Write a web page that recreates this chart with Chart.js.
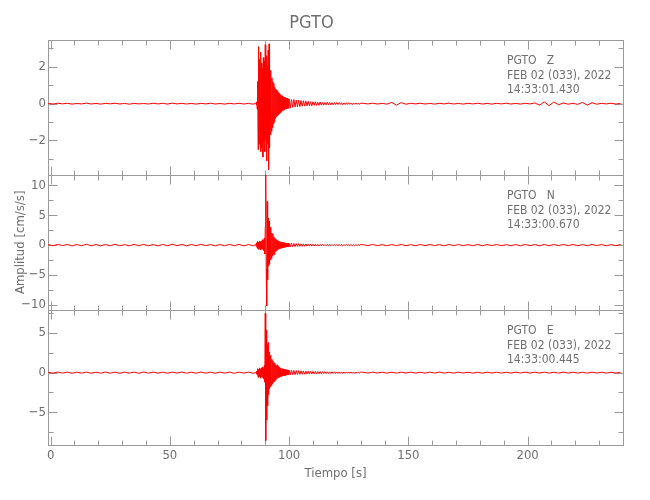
<!DOCTYPE html>
<html>
<head>
<meta charset="utf-8">
<script src="https://cdn.jsdelivr.net/npm/chart.js@4/dist/chart.umd.min.js"></script>
<style>
  body { margin: 0; background: #fff; }
  #c { display: block; }
</style>
</head>
<body>
<canvas id="c" width="650" height="500"></canvas>
<script>
// componentes del sismograma
var components = ['Z', 'N', 'E'];
var stationLabels = ['PGTO   Z', 'PGTO   N', 'PGTO   E'];
var dateLabels = ['FEB 02 (033), 2022', 'FEB 02 (033), 2022', 'FEB 02 (033), 2022'];
var timeLabels = ['14:33:01.430', '14:33:00.670', '14:33:00.445'];

// tramos de muestreo [inicio, paso] en segundos
var preSeg = [-1, 2];
var burstSeg = [86, 0.2];
var codaSeg = [100.5, 0.5];
var postSeg = [131, 2];

// Z
var zPre = [0.015,-0.02,0.025,-0.01,0.02,-0.025,0.01,-0.015,0.03,-0.02,
  0.015,-0.025,0.02,-0.01,0.025,-0.02,0.015,-0.03,0.02,-0.015,
  0.01,-0.02,0.025,-0.015,0.02,-0.025,0.03,-0.015,0.02,-0.02,
  0.015,-0.025,0.02,-0.015,0.025,-0.02,0.01,-0.025,0.02,-0.015,
  0.025,-0.02,0.015,-0.03];
var zBurst = [0.03,-0.05,0.1,-0.3,1.2,-2.5,3.1,-2.2,2.4,-2.0,
  2.8,-2.6,2.2,-2.4,1.9,-2.9,2.5,-2.1,2.3,-2.6,
  3.2,-2.0,2.6,-3.1,2.1,-2.2,2.9,-3.6,3.25,-2.4,
  1.8,-1.7,1.6,-1.5,1.4,-1.3,1.2,-1.1,1.1,-1.0,
  0.9,-0.8,0.8,-0.7,0.75,-0.65,0.7,-0.6,0.6,-0.55,
  0.55,-0.5,0.5,-0.45,0.45,-0.4,0.42,-0.38,0.36,-0.35,
  0.34,-0.3,0.32,-0.28,0.3,-0.27,0.28,-0.25,0.26,-0.25,
  0.24];
var zCoda = [-0.24,0.22,-0.2,0.23,-0.18,0.2,-0.17,0.19,-0.16,0.17,
  -0.14,0.16,-0.13,0.15,-0.12,0.13,-0.12,0.11,-0.12,0.1,
  -0.09,0.1,-0.1,0.08,-0.09,0.09,-0.08,0.07,-0.08,0.07,
  -0.07,0.08,-0.06,0.07,-0.06,0.05,-0.07,0.06,-0.05,0.06,
  -0.05,0.06,-0.04,0.05,-0.06,0.04,-0.05,0.05,-0.04,0.05,
  -0.04,0.03,-0.05,0.04,-0.03,0.04,-0.04,0.03,-0.04,0.03];
var zPost = [0.02,-0.015,0.025,-0.02,0.015,-0.025,0.07,-0.08,0.06,-0.03,
  0.02,-0.015,0.025,-0.02,0.015,-0.025,0.02,-0.015,0.03,-0.02,
  0.015,-0.025,0.02,-0.015,0.025,-0.02,0.015,-0.025,0.02,-0.015,
  0.025,-0.02,0.015,-0.025,0.02,-0.015,0.04,-0.08,0.1,-0.11,
  0.09,-0.06,0.04,-0.03,0.02,-0.04,0.07,-0.08,0.05,-0.03,
  0.02,-0.015,0.025,-0.02,0.015];

// N
var nPre = [0.08,-0.1,0.12,-0.09,0.11,-0.13,0.09,-0.1,0.14,-0.11,
  0.1,-0.12,0.09,-0.11,0.13,-0.1,0.08,-0.12,0.11,-0.09,
  0.12,-0.1,0.09,-0.13,0.11,-0.1,0.14,-0.09,0.1,-0.12,
  0.11,-0.1,0.13,-0.09,0.1,-0.12,0.09,-0.11,0.12,-0.1,
  0.11,-0.13,0.1,-0.12];
var nBurst = [0.1,-0.2,0.4,-0.5,0.6,-0.7,0.5,-0.6,0.7,-0.5,
  0.6,-0.8,0.7,-0.6,0.9,-0.7,0.8,-0.9,1.2,-1.5,
  3.0,12.3,-4.0,-10.2,7.3,-5.8,4.5,-3.5,4.0,-3.2,
  2.8,-2.5,3.0,-2.2,2.0,-1.8,1.9,-1.5,1.4,-1.6,
  1.2,-1.1,1.0,-1.0,0.9,-0.8,0.8,-0.7,0.7,-0.6,
  0.6,-0.55,0.55,-0.5,0.5,-0.45,0.48,-0.42,0.4,-0.4,
  0.38,-0.36,0.36,-0.34,0.34,-0.32,0.32,-0.3,0.3,-0.3,
  0.28];
var nCoda = [-0.28,0.3,-0.26,0.27,-0.25,0.24,-0.23,0.25,-0.22,0.22,
  -0.2,0.21,-0.19,0.2,-0.18,0.18,-0.17,0.16,-0.17,0.15,
  -0.15,0.14,-0.15,0.13,-0.14,0.13,-0.12,0.13,-0.12,0.11,
  -0.11,0.12,-0.1,0.11,-0.1,0.1,-0.11,0.09,-0.1,0.09,
  -0.09,0.1,-0.08,0.09,-0.09,0.08,-0.08,0.09,-0.08,0.08,
  -0.08,0.07,-0.08,0.08,-0.07,0.08,-0.07,0.07,-0.08,0.07];
var nPost = [0.07,-0.08,0.1,-0.09,0.08,-0.1,0.09,-0.08,0.1,-0.09,
  0.08,-0.1,0.11,-0.09,0.1,-0.08,0.09,-0.11,0.1,-0.08,
  0.09,-0.1,0.08,-0.09,0.11,-0.1,0.09,-0.08,0.1,-0.09,
  0.08,-0.1,0.09,-0.11,0.1,-0.08,0.09,-0.12,0.11,-0.1,
  0.09,-0.08,0.1,-0.09,0.11,-0.1,0.08,-0.09,0.1,-0.08,
  0.09,-0.1,0.08,-0.09,0.1];

// E
var ePre = [0.06,-0.07,0.08,-0.06,0.07,-0.08,0.06,-0.07,0.07,-0.08,
  0.06,-0.07,0.08,-0.07,0.06,-0.08,0.07,-0.06,0.07,-0.08,
  0.08,-0.06,0.07,-0.07,0.06,-0.08,0.07,-0.06,0.08,-0.07,
  0.06,-0.07,0.08,-0.07,0.06,-0.08,0.07,-0.06,0.07,-0.08,
  0.07,-0.06,0.08,-0.09];
var eBurst = [0.05,-0.1,0.2,-0.3,0.5,-0.6,0.4,-0.5,0.6,-0.4,
  0.5,-0.7,0.6,-0.5,0.7,-0.6,0.5,-0.8,0.9,-1.2,
  7.5,-8.6,5.4,-6.0,3.5,-4.2,3.8,-2.8,2.6,-2.0,
  2.2,-1.8,2.0,-1.6,1.7,-1.4,1.5,-1.2,1.3,-1.1,
  1.2,-1.0,1.0,-0.8,0.9,-0.7,1.0,-0.6,0.8,-0.6,
  0.7,-0.5,0.6,-0.5,0.5,-0.45,0.5,-0.4,0.45,-0.4,
  0.4,-0.35,0.4,-0.35,0.35,-0.3,0.35,-0.3,0.3,-0.28,
  0.3];
var eCoda = [-0.28,0.3,-0.26,0.28,-0.25,0.26,-0.24,0.25,-0.22,0.23,
  -0.21,0.22,-0.2,0.2,-0.19,0.19,-0.18,0.17,-0.17,0.16,
  -0.16,0.15,-0.15,0.14,-0.14,0.14,-0.13,0.13,-0.12,0.12,
  -0.12,0.11,-0.11,0.11,-0.1,0.11,-0.1,0.1,-0.1,0.09,
  -0.1,0.09,-0.09,0.1,-0.09,0.08,-0.09,0.09,-0.08,0.09,
  -0.08,0.09,-0.08,0.08,-0.09,0.08,-0.08,0.08,-0.07,0.08];
var ePost = [0.05,-0.06,0.06,-0.05,0.06,-0.06,0.05,-0.06,0.06,-0.05,
  0.06,-0.06,0.05,-0.06,0.06,-0.05,0.07,-0.06,0.05,-0.06,
  0.06,-0.05,0.06,-0.06,0.05,-0.07,0.06,-0.05,0.06,-0.06,
  0.05,-0.06,0.06,-0.05,0.07,-0.06,0.06,-0.05,0.06,-0.06,
  0.05,-0.06,0.06,-0.05,0.06,-0.06,0.05,-0.06,0.06,-0.05,
  0.06,-0.06,0.05,-0.06,0.06];

// ejes
var xMin = -1.1, xMax = 240, xMajor = 50, xMinor = 10;
var yMins = [-3.86, -10.84, -9.15];
var yMaxs = [3.48, 11.78, 7.94];
var yMajors = [2, 5, 5];
var yMinors = [1, 2.5, 2.5];

var fontFam = "'Liberation Sans Narrow', 'DejaVu Sans Condensed', 'Liberation Sans', sans-serif";
var textColor = '#6f6f6f';
var axisColor = '#9a9a9a';
var traceColor = '#ff0000';

function armarTraza(pre, burst, coda, post) {
  var pts = [];
  var tramos = [[preSeg, pre], [burstSeg, burst], [codaSeg, coda], [postSeg, post]];
  for (var tramo of tramos) {
    var t0 = tramo[0][0], dt = tramo[0][1];
    tramo[1].forEach(function (v, i) {
      pts.push({ x: +(t0 + i * dt).toFixed(2), y: v });
    });
  }
  return pts;
}

var traces = [
  armarTraza(zPre, zBurst, zCoda, zPost),
  armarTraza(nPre, nBurst, nCoda, nPost),
  armarTraza(ePre, eBurst, eCoda, ePost)
];

function menos(v) {
  return String(v).replace('-', '\u2212');
}

function ejeY(i, titulo) {
  var eje = {
    type: 'linear',
    position: 'left',
    stack: 'paneles',
    stackWeight: 1,
    min: yMins[i],
    max: yMaxs[i],
    grid: { display: false, drawTicks: false },
    border: { display: false },
    ticks: {
      stepSize: yMajors[i],
      includeBounds: false,
      padding: 2,
      color: textColor,
      font: { family: fontFam, size: 13 },
      callback: function (v) { return menos(v); }
    },
    afterFit: function (s) { s.width = 48; }
  };
  if (titulo) {
    eje.title = {
      display: true,
      text: titulo,
      color: textColor,
      font: { family: fontFam, size: 13 },
      padding: { top: 13, bottom: 0 }
    };
  }
  return eje;
}

// marco de cada panel y marcas hacia adentro
var marcoPlugin = {
  id: 'marco',
  beforeDatasetsDraw: function (chart) {
    var ctx = chart.ctx;
    var a = chart.chartArea;
    var sx = chart.scales.x;
    ctx.save();
    ctx.strokeStyle = axisColor;
    ctx.lineWidth = 1;
    function linea(x1, y1, x2, y2) {
      ctx.beginPath();
      ctx.moveTo(x1, y1);
      ctx.lineTo(x2, y2);
      ctx.stroke();
    }
    components.forEach(function (c, i) {
      var s = chart.scales['y' + c];
      var top = Math.round(s.top) + 0.5, bot = Math.round(s.bottom) + 0.5;
      var left = Math.round(a.left) + 0.5, right = Math.round(a.right) + 0.5;
      ctx.strokeRect(left, top, right - left, bot - top);
      for (var t = 0; t <= xMax; t += xMinor) {
        var px = Math.round(sx.getPixelForValue(t)) + 0.5;
        var len = (t % xMajor === 0) ? 9 : 5;
        linea(px, top, px, top + len);
        linea(px, bot, px, bot - len);
      }
      var m = yMinors[i];
      for (var v = Math.ceil(yMins[i] / m) * m; v <= yMaxs[i]; v += m) {
        var py = Math.round(s.getPixelForValue(v)) + 0.5;
        var r = v / yMajors[i];
        var lenY = Math.abs(r - Math.round(r)) < 1e-6 ? 9 : 5;
        linea(left, py, left + lenY, py);
        linea(right, py, right - lenY, py);
      }
    });
    ctx.restore();
  },
  afterDraw: function (chart) {
    var ctx = chart.ctx;
    var a = chart.chartArea;
    ctx.save();
    ctx.fillStyle = textColor;
    ctx.font = '12px ' + fontFam;
    ctx.textAlign = 'left';
    ctx.textBaseline = 'middle';
    components.forEach(function (c, i) {
      var s = chart.scales['y' + c];
      var x0 = a.right - 116;
      ctx.fillText(stationLabels[i], x0, s.top + 21);
      ctx.fillText(dateLabels[i], x0, s.top + 36);
      ctx.fillText(timeLabels[i], x0, s.top + 50);
    });
    ctx.restore();
  }
};

var datasets = components.map(function (c, i) {
  return {
    label: stationLabels[i],
    data: traces[i],
    yAxisID: 'y' + c,
    borderColor: traceColor,
    borderWidth: 1,
    pointRadius: 0,
    tension: 0,
    fill: false
  };
});

new Chart(document.getElementById('c'), {
  type: 'line',
  data: { datasets: datasets },
  options: {
    responsive: false,
    animation: false,
    devicePixelRatio: 1,
    layout: { padding: { left: 0, right: 27, top: 0, bottom: 0 } },
    plugins: {
      legend: { display: false },
      tooltip: { enabled: false },
      title: {
        display: true,
        text: 'PGTO',
        color: textColor,
        font: { family: fontFam, size: 18, weight: 'normal' },
        padding: { top: 13, bottom: 5 }
      }
    },
    scales: {
      x: {
        type: 'linear',
        min: xMin,
        max: xMax,
        grid: { display: false, drawTicks: false },
        border: { display: false },
        ticks: {
          stepSize: xMajor,
          includeBounds: false,
          maxRotation: 0,
          padding: 3,
          color: textColor,
          font: { family: fontFam, size: 13 }
        },
        title: {
          display: true,
          text: 'Tiempo [s]',
          color: textColor,
          font: { family: fontFam, size: 13 },
          padding: { top: 0, bottom: 19 }
        },
        afterFit: function (s) { s.height = 55; }
      },
      yE: ejeY(2),
      yN: ejeY(1, 'Amplitud [cm/s/s]'),
      yZ: ejeY(0)
    }
  },
  plugins: [marcoPlugin]
});
</script>
</body>
</html>
